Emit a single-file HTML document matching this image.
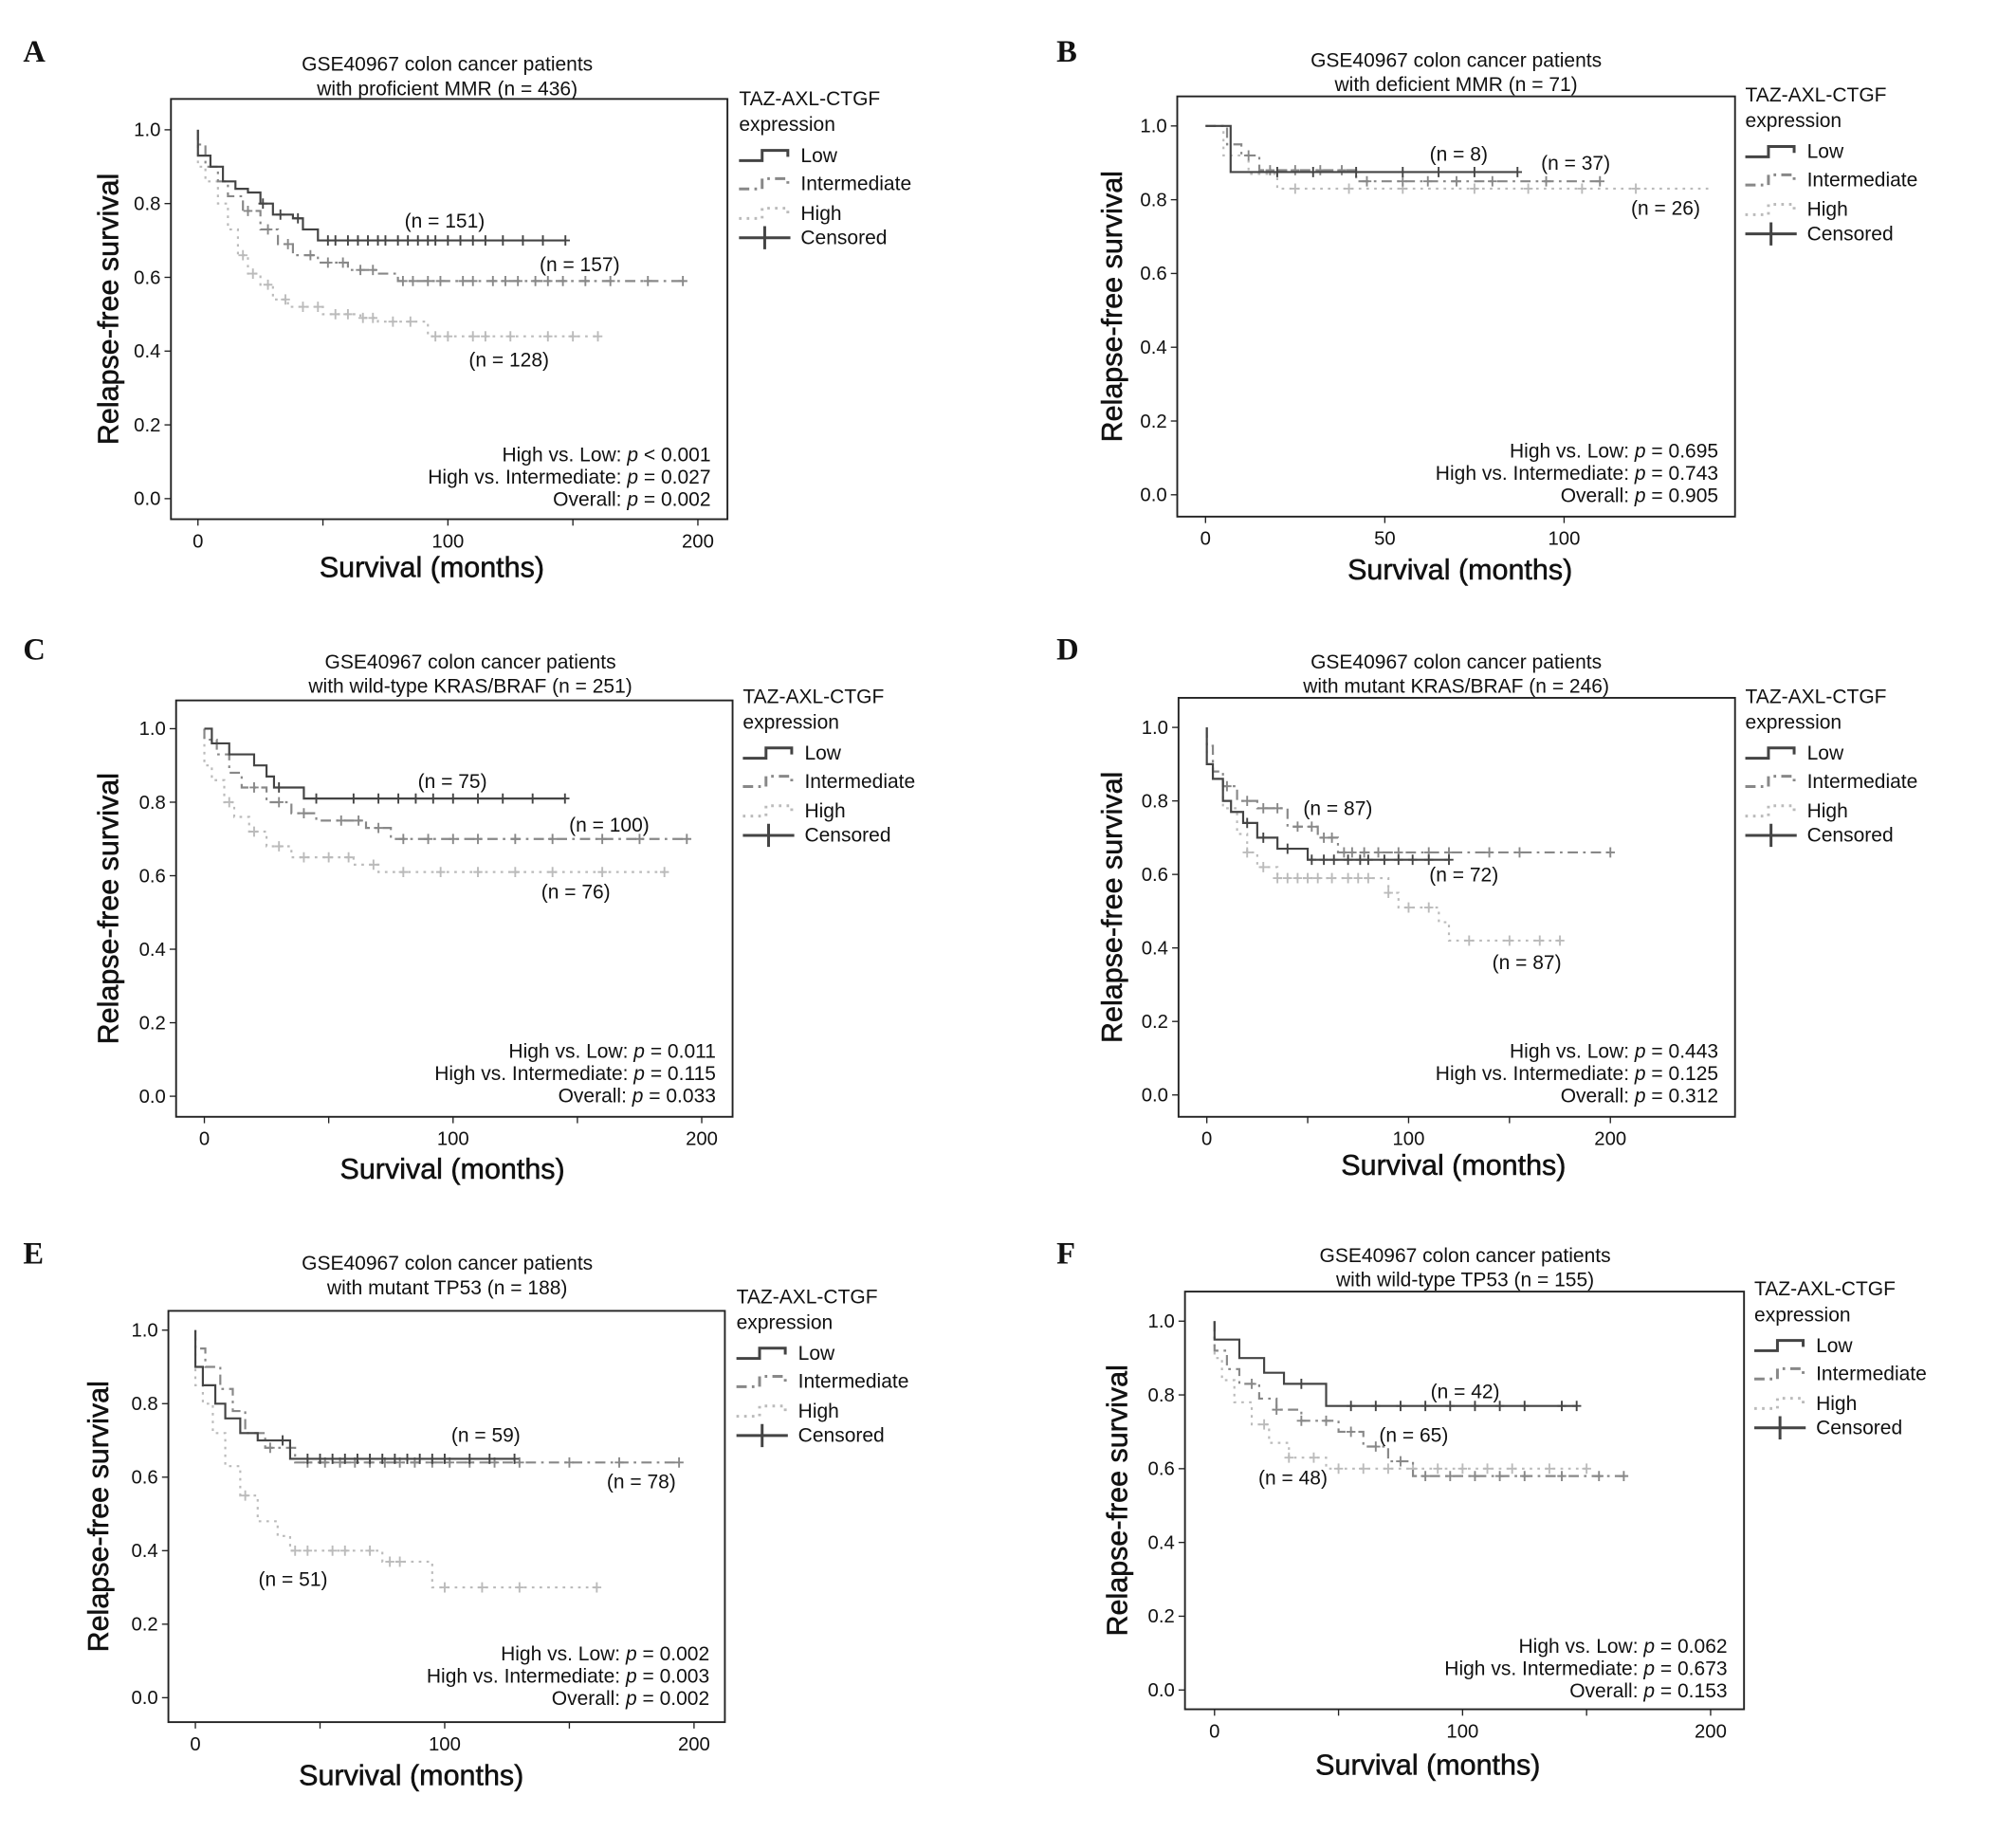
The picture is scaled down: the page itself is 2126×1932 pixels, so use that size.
<!DOCTYPE html>
<html><head><meta charset="utf-8">
<style>
html,body{margin:0;padding:0;background:#fff;}
svg{display:block;}
text{font-family:"Liberation Sans",Arial,sans-serif;fill:#111;}
.lt{font-family:"Liberation Serif",serif;font-weight:bold;font-size:24px;}
.ax{stroke:#111;stroke-width:0.4;}
</style></head>
<body>
<svg id="fig" width="2126" height="1932" viewBox="0 0 1568.6 1425.5" xmlns="http://www.w3.org/2000/svg"></svg>
<script>
// ---- data (months, survival) ----
const panelIds = ['A','B','C','D','E','F'];
const titles1 = ['GSE40967 colon cancer patients','GSE40967 colon cancer patients','GSE40967 colon cancer patients','GSE40967 colon cancer patients','GSE40967 colon cancer patients','GSE40967 colon cancer patients'];
const titles2 = ['with proficient MMR (n = 436)','with deficient MMR (n = 71)','with wild-type KRAS/BRAF (n = 251)','with mutant KRAS/BRAF (n = 246)','with mutant TP53 (n = 188)','with wild-type TP53 (n = 155)'];
const pTexts = [
 [['High vs. Low: ','< 0.001'],['High vs. Intermediate: ','= 0.027'],['Overall: ','= 0.002']],
 [['High vs. Low: ','= 0.695'],['High vs. Intermediate: ','= 0.743'],['Overall: ','= 0.905']],
 [['High vs. Low: ','= 0.011'],['High vs. Intermediate: ','= 0.115'],['Overall: ','= 0.033']],
 [['High vs. Low: ','= 0.443'],['High vs. Intermediate: ','= 0.125'],['Overall: ','= 0.312']],
 [['High vs. Low: ','= 0.002'],['High vs. Intermediate: ','= 0.003'],['Overall: ','= 0.002']],
 [['High vs. Low: ','= 0.062'],['High vs. Intermediate: ','= 0.673'],['Overall: ','= 0.153']]
];
const yTicks = [0,0.2,0.4,0.6,0.8,1.0];
const xTicksLabeled = [[0,100,200],[0,50,100],[0,100,200],[0,100,200],[0,100,200],[0,100,200]];
const xTicksAll = [[0,50,100,150,200],[0,50,100],[0,50,100,150,200],[0,50,100,150,200],[0,50,100,150,200],[0,50,100,150,200]];
const seriesNames = ['Low','Intermediate','High'];
const lowT = [[0,5,10,15,20,25,30,38,42,48],[0,7],[0,3,10,20,25,28,40],[0,3,8,12,18,25,35,50],[0,3,8,12,18,25,38],[0,10,20,28,45]];
const lowS = [[0.93,0.90,0.86,0.84,0.83,0.80,0.77,0.76,0.73,0.70],[1.0,0.875],[1.0,0.96,0.93,0.90,0.87,0.84,0.81],[0.90,0.86,0.80,0.77,0.74,0.70,0.67,0.64],[0.90,0.85,0.80,0.76,0.72,0.70,0.65],[0.95,0.90,0.86,0.83,0.77]];
const lowEnd = [147,87,145,120,128,146];
const lowC = [[26,33,40,52,55,60,64,68,72,75,80,84,88,92,95,100,105,110,115,122,130,138,147],[20,30,42,55,65,75,87],[30,45,60,70,78,85,92,100,110,120,132,145],[20,28,40,52,58,63,70,76,80,88,95,102,110,120],[35,45,50,55,60,65,70,75,80,85,90,95,100,110,118,128],[35,55,65,75,85,95,105,115,125,140,146]];
const intT = [[0,3,8,12,18,25,32,38,48,60,72,80],[0,6,10,15,42],[0,5,10,15,25,35,45,65,75],[0,3,8,15,25,40,55,65],[0,4,10,15,20,28,40],[0,5,10,18,25,35,50,60,70,80]];
const intS = [[0.96,0.90,0.86,0.82,0.78,0.73,0.69,0.66,0.64,0.62,0.61,0.59],[1.0,0.95,0.92,0.88,0.85],[0.97,0.93,0.88,0.84,0.80,0.77,0.75,0.73,0.70],[0.95,0.88,0.84,0.80,0.78,0.73,0.70,0.66],[0.95,0.90,0.84,0.78,0.72,0.68,0.64],[0.92,0.87,0.83,0.79,0.76,0.73,0.70,0.66,0.62,0.58]];
const intEnd = [194,110,194,200,194,165];
const intC = [[20,28,36,45,52,58,65,70,82,86,92,97,106,110,118,123,128,135,140,146,155,165,180,194],[12,18,25,32,38,45,55,62,70,80,95,110],[20,30,40,55,62,70,80,90,100,110,125,140,160,175,194],[10,20,28,35,45,52,58,62,68,72,78,85,95,110,120,140,155,200],[30,45,52,58,64,70,76,82,88,95,102,110,120,130,150,170,194],[15,25,35,45,55,65,75,85,95,105,115,125,140,155,165]];
const highT = [[0,3,8,12,16,20,25,30,36,50,65,72,92],[0,5,12,20],[0,3,8,12,18,25,35,60,70],[0,3,8,15,20,25,35,90,95,115,120],[0,3,7,12,18,25,33,38,75,95],[0,3,8,15,22,30,45]];
const highS = [[0.90,0.86,0.80,0.73,0.66,0.61,0.58,0.54,0.52,0.50,0.49,0.48,0.44],[1.0,0.92,0.87,0.83],[0.90,0.86,0.80,0.76,0.72,0.68,0.65,0.63,0.61],[0.93,0.86,0.78,0.71,0.66,0.62,0.59,0.55,0.51,0.47,0.42],[0.85,0.80,0.72,0.63,0.55,0.48,0.44,0.40,0.37,0.30],[0.90,0.84,0.78,0.72,0.67,0.63,0.60]];
const highEnd = [160,141,185,175,161,150];
const highC = [[18,22,28,35,42,48,55,60,66,70,78,85,95,100,110,115,125,140,150,160],[25,40,55,75,90,105,120],[10,20,30,40,50,58,68,80,95,110,125,140,160,185],[20,28,35,40,45,50,55,62,70,75,80,90,100,110,130,150,165,175],[20,40,45,55,60,70,78,82,100,115,130,161],[20,30,40,50,60,70,80,90,100,110,120,135,150]];
const nLabels = [['(n = 151)','(n = 157)','(n = 128)'],['(n = 8)','(n = 37)','(n = 26)'],['(n = 75)','(n = 100)','(n = 76)'],['(n = 72)','(n = 87)','(n = 87)'],['(n = 59)','(n = 78)','(n = 51)'],['(n = 42)','(n = 65)','(n = 48)']];

// ---- layout ----
const geo = [
 {L:133,R:566,T:77,B:404,y1:101,y0:388,x0:154,xs:(543-154)/200,tc:348,ty:52,lx:575,ly:77,yl:84,xly:441,xlc:336,pr:553,py:354,ll:[18,40],
  nl:[[346,172],[451,206],[396,280]]},
 {L:916,R:1350,T:75,B:402,y1:98,y0:385,x0:938,xs:(1217-938)/100,tc:1133,ty:49,lx:1358,ly:74,yl:865,xly:443,xlc:1136,pr:1337,py:351,ll:[822,40],
  nl:[[1135,120],[1226,127],[1296,162]]},
 {L:137,R:570,T:545,B:869,y1:567,y0:853,x0:159,xs:(546-159)/200,tc:366,ty:517,lx:578,ly:542,yl:84,xly:909,xlc:352,pr:557,py:818,ll:[18,505],
  nl:[[352,608],[474,642],[448,694]]},
 {L:917,R:1350,T:543,B:869,y1:566,y0:852,x0:939,xs:(1253-939)/200,tc:1133,ty:517,lx:1358,ly:542,yl:865,xly:906,xlc:1131,pr:1337,py:818,ll:[822,505],
  nl:[[1139,681],[1041,629],[1188,749]]},
 {L:131,R:564,T:1020,B:1340,y1:1035,y0:1321,x0:152,xs:(540-152)/200,tc:348,ty:985,lx:573,ly:1009,yl:76,xly:1381,xlc:320,pr:552,py:1287,ll:[18,975],
  nl:[[378,1117],[499,1153],[228,1229]]},
 {L:922,R:1357,T:1005,B:1330,y1:1028,y0:1315,x0:945,xs:(1331-945)/200,tc:1140,ty:979,lx:1365,ly:1003,yl:869,xly:1373,xlc:1111,pr:1344,py:1281,ll:[822,975],
  nl:[[1140,1083],[1100,1117],[1006,1150]]}
];
const colors = ['#444','#888','#bbb'];
const dashes = ['', '8 4 2 4', '2 4'];
const NS='http://www.w3.org/2000/svg';
const svg=document.getElementById('fig');
function mk(tag,attrs,parent,txt){const e=document.createElementNS(NS,tag);for(const k in attrs)e.setAttribute(k,attrs[k]);if(txt!==undefined)e.textContent=txt;(parent||svg).appendChild(e);return e;}
function survAt(T,S,t){let s=S[0];for(let i=0;i<T.length;i++){if(t>=T[i])s=S[i];}return s;}

panelIds.forEach((pid,i)=>{
  const g=geo[i];
  const grp=mk('g',{});
  
  
  const X=t=>g.x0+t*g.xs, Y=s=>g.y0-(g.y0-g.y1)*s;
  const lt=mk('text',{x:g.ll[0],y:g.ll[1]+8,class:'lt'},grp,pid);
  
  
  const t1=mk('text',{x:g.tc,y:g.ty+3,'text-anchor':'middle','font-size':15.5},grp,titles1[i]);
  
  
  const t2=mk('text',{x:g.tc,y:g.ty+22,'text-anchor':'middle','font-size':15.5},grp,titles2[i]);
  
  
  const box=mk('rect',{x:g.L,y:g.T,width:g.R-g.L,height:g.B-g.T,fill:'none',stroke:'#222','stroke-width':1.4},grp);
  
  
  yTicks.forEach(v=>{
    mk('line',{x1:g.L-5,x2:g.L,y1:Y(v),y2:Y(v),stroke:'#222'},grp);
    const tl=mk('text',{x:g.L-8,y:Y(v)+5,'text-anchor':'end','font-size':15},grp,v.toFixed(1));
    
    
  });
  xTicksAll[i].forEach(v=>{mk('line',{x1:X(v),x2:X(v),y1:g.B,y2:g.B+5,stroke:'#222'},grp);});
  xTicksLabeled[i].forEach(v=>{
    const tl=mk('text',{x:X(v),y:g.B+22,'text-anchor':'middle','font-size':15},grp,String(v));
    
    
  });
  const yl=mk('text',{x:0,y:0,'text-anchor':'middle','font-size':22.5,class:'ax',transform:`translate(${g.yl+8},${(g.T+g.B)/2}) rotate(-90)`},grp,'Relapse-free survival');
  
  
  const xl=mk('text',{x:g.xlc,y:g.xly+8,'text-anchor':'middle','font-size':22.5,class:'ax'},grp,'Survival (months)');
  
  
  const all=[[lowT,lowS,lowEnd,lowC],[intT,intS,intEnd,intC],[highT,highS,highEnd,highC]];
  [2,1,0].forEach(si=>{
    const [TT,SS,EE,CC]=all[si];
    const T=TT[i],S=SS[i],E=EE[i];
    let d=`M${X(0)},${Y(1)}L${X(0)},${Y(S[0])}`;
    for(let k=1;k<T.length;k++){d+=`L${X(T[k])},${Y(S[k-1])}L${X(T[k])},${Y(S[k])}`;}
    d+=`L${X(E)},${Y(S[S.length-1])}`;
    const p=mk('path',{d,fill:'none',stroke:colors[si],'stroke-width':1.6,'stroke-dasharray':dashes[si]},grp);
    
    
    CC[i].forEach(t=>{
      const cx=X(t),cy=Y(survAt(T,S,t));
      const c=mk('path',{d:`M${cx-3.5},${cy}H${cx+3.5}M${cx},${cy-4}V${cy+4}`,stroke:colors[si],'stroke-width':1.4},grp);
      
      
    });
  });
  nLabels[i].forEach((s,k)=>{
    const t=mk('text',{x:g.nl[k][0],y:g.nl[k][1]+5,'text-anchor':'middle','font-size':15.5},grp,s);
    
    
  });
  pTexts[i].forEach((pt,k)=>{
    const t=mk('text',{x:g.pr,y:g.py+k*17.3+5,'text-anchor':'end','font-size':15.5},grp);
    
    
    mk('tspan',{},t,pt[0]);
    mk('tspan',{'font-style':'italic'},t,'p');
    mk('tspan',{},t,' '+pt[1]);
  });
  const lg=mk('g',{},grp);
  
  
  mk('text',{x:g.lx,y:g.ly+5,'font-size':15.5},lg,'TAZ-AXL-CTGF');
  mk('text',{x:g.lx,y:g.ly+25,'font-size':15.5},lg,'expression');
  const ly=[g.ly+44,g.ly+66,g.ly+89,g.ly+108];
  seriesNames.forEach((nm,k)=>{
    const y=ly[k];
    mk('path',{d:`M${g.lx},${y+4}H${g.lx+18}V${y-4}H${g.lx+38}V${y+1}`,fill:'none',stroke:colors[k],'stroke-width':2.2,'stroke-dasharray':dashes[k]},lg);
    const t=mk('text',{x:g.lx+48,y:y+5,'font-size':15.5},lg,nm);
    
    
  });
  const y=ly[3];
  mk('path',{d:`M${g.lx},${y}H${g.lx+40}M${g.lx+20},${y-9}V${y+9}`,stroke:'#444','stroke-width':2.2},lg);
  const ct=mk('text',{x:g.lx+48,y:y+5,'font-size':15.5},lg,'Censored');
  
  
});
</script>
</body></html>
